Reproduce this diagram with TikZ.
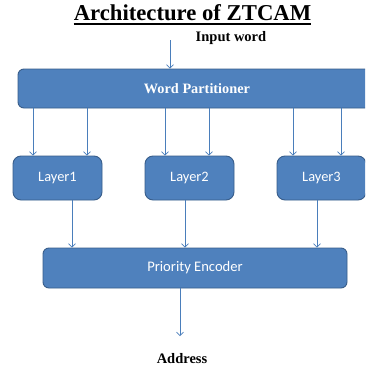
\documentclass[tikz,border=0pt]{standalone}
\usepackage{fontspec}
\newfontfamily\tnrfont{Liberation Serif}
\newfontfamily\calfont{Carlito}
\usetikzlibrary{arrows.meta}

\definecolor{boxblue}{HTML}{4F81BD}
\definecolor{boxedge}{HTML}{385D8A}
\definecolor{arrblue}{HTML}{4A7EBB}

\tikzset{
	blk/.style={draw=boxedge, line width=0.9pt, fill=boxblue, text=white, inner sep=0pt, rounded corners=6pt},
	lyr/.style={blk, minimum width=89pt, minimum height=44pt, rounded corners=8pt, font=\calfont\fontsize{14.4}{16}\selectfont},
	arr/.style={draw=arrblue, line width=0.7pt, -{Straight Barb[length=3.5pt,width=7pt]}},
	lbl/.style={font=\tnrfont\bfseries\fontsize{14.5}{17}\selectfont, anchor=base}
}

\begin{document}
\begin{tikzpicture}[x=1pt,y=-1pt]
				\clip (0,0) rectangle (365,370);
				\fill[white] (0,0) rectangle (365,370);
				
				% heading and free texts
				\node[font=\tnrfont\bfseries\fontsize{22.7}{26}\selectfont, anchor=base, inner sep=0pt] (title) at (192.5,20) {Architecture of ZTCAM};
				\draw[line width=1.6pt] ([yshift=-4pt]title.base west) -- ([yshift=-4pt]title.base east);
				\node[lbl] (inword) at (231,41) {Input word};
				\node[lbl] (addr) at (182,363) {Address};
				
				% blocks
				\node[blk, minimum width=358pt, minimum height=39pt, font=\tnrfont\bfseries\fontsize{14.3}{17}\selectfont] (part) at (197,88.5) {Word Partitioner};
				\node[lyr] (l1) at (57.5,178) {Layer1};
				\node[lyr] (l2) at (189.5,178) {Layer2};
				\node[lyr] (l3) at (321.5,178) {Layer3};
				\node[blk, minimum width=304pt, minimum height=40pt, font=\calfont\fontsize{14.6}{17}\selectfont] (pe) at (195,268) {Priority Encoder};
				
				\coordinate (in) at (170,40);
				\coordinate (out) at (180,336);
				
				% input into the partitioner
				\draw[arr] (in) -- (in |- part.north);
				
				% partitioner to the layers, two lines each
				\draw[arr] (33,0 |- part.south) -- (33,0 |- l1.north);
				\draw[arr] (87,0 |- part.south) -- (87,0 |- l1.north);
				\draw[arr] (165,0 |- part.south) -- (165,0 |- l2.north);
				\draw[arr] (209,0 |- part.south) -- (209,0 |- l2.north);
				\draw[arr] (293,0 |- part.south) -- (293,0 |- l3.north);
				\draw[arr] (341,0 |- part.south) -- (341,0 |- l3.north);
				
				% layers to the encoder
				\draw[arr] (72,0 |- l1.south) -- (72,0 |- pe.north);
				\draw[arr] (185,0 |- l2.south) -- (185,0 |- pe.north);
				\draw[arr] (317,0 |- l3.south) -- (317,0 |- pe.north);
				
				% encoder output
				\draw[arr] (out |- pe.south) -- (out);
\end{tikzpicture}
\end{document}
